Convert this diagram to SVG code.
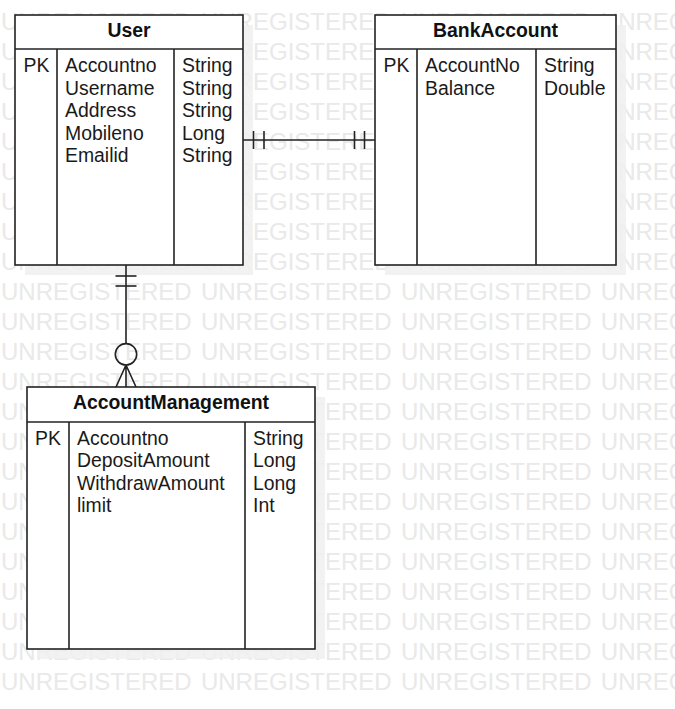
<svg xmlns="http://www.w3.org/2000/svg" width="675" height="709" viewBox="0 0 675 709">
<style>
.wm{font-family:"Liberation Sans",Arial,sans-serif;font-size:24px;fill:#e9e9e9;word-spacing:2.6px}
.sh{fill:#f0f0f0}
.box{fill:#fff;stroke:#222;stroke-width:1.6}
.ln{stroke:#222;stroke-width:1.6;fill:none}
.t{font-family:"Liberation Sans",Arial,sans-serif;font-size:19.4px;fill:#1a1a1a}
.h{font-family:"Liberation Sans",Arial,sans-serif;font-size:19.4px;font-weight:bold;fill:#111;text-anchor:middle}
</style>
<rect width="675" height="709" fill="#fff"/>
<g id="watermark">
<text class="wm" x="1" y="30">UNREGISTERED UNREGISTERED UNREGISTERED UNREGISTERED</text>
<text class="wm" x="1" y="60">UNREGISTERED UNREGISTERED UNREGISTERED UNREGISTERED</text>
<text class="wm" x="1" y="90">UNREGISTERED UNREGISTERED UNREGISTERED UNREGISTERED</text>
<text class="wm" x="1" y="120">UNREGISTERED UNREGISTERED UNREGISTERED UNREGISTERED</text>
<text class="wm" x="1" y="150">UNREGISTERED UNREGISTERED UNREGISTERED UNREGISTERED</text>
<text class="wm" x="1" y="180">UNREGISTERED UNREGISTERED UNREGISTERED UNREGISTERED</text>
<text class="wm" x="1" y="210">UNREGISTERED UNREGISTERED UNREGISTERED UNREGISTERED</text>
<text class="wm" x="1" y="240">UNREGISTERED UNREGISTERED UNREGISTERED UNREGISTERED</text>
<text class="wm" x="1" y="270">UNREGISTERED UNREGISTERED UNREGISTERED UNREGISTERED</text>
<text class="wm" x="1" y="300">UNREGISTERED UNREGISTERED UNREGISTERED UNREGISTERED</text>
<text class="wm" x="1" y="330">UNREGISTERED UNREGISTERED UNREGISTERED UNREGISTERED</text>
<text class="wm" x="1" y="360">UNREGISTERED UNREGISTERED UNREGISTERED UNREGISTERED</text>
<text class="wm" x="1" y="390">UNREGISTERED UNREGISTERED UNREGISTERED UNREGISTERED</text>
<text class="wm" x="1" y="420">UNREGISTERED UNREGISTERED UNREGISTERED UNREGISTERED</text>
<text class="wm" x="1" y="450">UNREGISTERED UNREGISTERED UNREGISTERED UNREGISTERED</text>
<text class="wm" x="1" y="480">UNREGISTERED UNREGISTERED UNREGISTERED UNREGISTERED</text>
<text class="wm" x="1" y="510">UNREGISTERED UNREGISTERED UNREGISTERED UNREGISTERED</text>
<text class="wm" x="1" y="540">UNREGISTERED UNREGISTERED UNREGISTERED UNREGISTERED</text>
<text class="wm" x="1" y="570">UNREGISTERED UNREGISTERED UNREGISTERED UNREGISTERED</text>
<text class="wm" x="1" y="600">UNREGISTERED UNREGISTERED UNREGISTERED UNREGISTERED</text>
<text class="wm" x="1" y="630">UNREGISTERED UNREGISTERED UNREGISTERED UNREGISTERED</text>
<text class="wm" x="1" y="660">UNREGISTERED UNREGISTERED UNREGISTERED UNREGISTERED</text>
<text class="wm" x="1" y="690">UNREGISTERED UNREGISTERED UNREGISTERED UNREGISTERED</text>
</g>
<g id="shadows">
<rect class="sh" x="25" y="25" width="228" height="250" opacity="0.85"/>
<rect class="sh" x="385" y="25" width="241" height="250" opacity="0.85"/>
<rect class="sh" x="37" y="397" width="288" height="262" opacity="0.85"/>
</g>
<g id="connectors">
<line class="ln" x1="243" y1="140" x2="375" y2="140"/>
<line class="ln" x1="253.5" y1="131" x2="253.5" y2="149"/>
<line class="ln" x1="264" y1="131" x2="264" y2="149"/>
<line class="ln" x1="354.5" y1="131" x2="354.5" y2="149"/>
<line class="ln" x1="364.5" y1="131" x2="364.5" y2="149"/>
<line class="ln" x1="126" y1="265" x2="126" y2="343.5"/>
<line class="ln" x1="115.5" y1="276" x2="136.5" y2="276"/>
<line class="ln" x1="115.5" y1="286" x2="136.5" y2="286"/>
<circle class="ln" cx="126" cy="354.3" r="10.7" fill="#fff"/>
<path class="ln" d="M126 365 L116 387 M126 365 L126 387 M126 365 L136 387"/>
</g>
<g id="user">
<rect class="box" x="15" y="15" width="228" height="250"/>
<line class="ln" x1="15" y1="49" x2="243" y2="49"/>
<line class="ln" x1="57" y1="49" x2="57" y2="265"/>
<line class="ln" x1="174" y1="49" x2="174" y2="265"/>
<text class="h" x="129" y="37">User</text>
<text class="t" x="23.5" y="72">PK</text>
<text class="t" x="65"><tspan x="65" y="72">Accountno</tspan><tspan x="65" y="94.5">Username</tspan><tspan x="65" y="117">Address</tspan><tspan x="65" y="139.5">Mobileno</tspan><tspan x="65" y="162">Emailid</tspan></text>
<text class="t" x="182"><tspan x="182" y="72">String</tspan><tspan x="182" y="94.5">String</tspan><tspan x="182" y="117">String</tspan><tspan x="182" y="139.5">Long</tspan><tspan x="182" y="162">String</tspan></text>
</g>
<g id="bankaccount">
<rect class="box" x="375" y="15" width="241" height="250"/>
<line class="ln" x1="375" y1="49" x2="616" y2="49"/>
<line class="ln" x1="417" y1="49" x2="417" y2="265"/>
<line class="ln" x1="536" y1="49" x2="536" y2="265"/>
<text class="h" x="495.5" y="37">BankAccount</text>
<text class="t" x="383.5" y="72">PK</text>
<text class="t" x="425"><tspan x="425" y="72">AccountNo</tspan><tspan x="425" y="94.5">Balance</tspan></text>
<text class="t" x="544"><tspan x="544" y="72">String</tspan><tspan x="544" y="94.5">Double</tspan></text>
</g>
<g id="accountmanagement">
<rect class="box" x="27" y="387" width="288" height="262"/>
<line class="ln" x1="27" y1="422" x2="315" y2="422"/>
<line class="ln" x1="69" y1="422" x2="69" y2="649"/>
<line class="ln" x1="245" y1="422" x2="245" y2="649"/>
<text class="h" x="171" y="409">AccountManagement</text>
<text class="t" x="35" y="444.5">PK</text>
<text class="t" x="77"><tspan x="77" y="444.5">Accountno</tspan><tspan x="77" y="467">DepositAmount</tspan><tspan x="77" y="489.5">WithdrawAmount</tspan><tspan x="77" y="512">limit</tspan></text>
<text class="t" x="253"><tspan x="253" y="444.5">String</tspan><tspan x="253" y="467">Long</tspan><tspan x="253" y="489.5">Long</tspan><tspan x="253" y="512">Int</tspan></text>
</g>
</svg>
